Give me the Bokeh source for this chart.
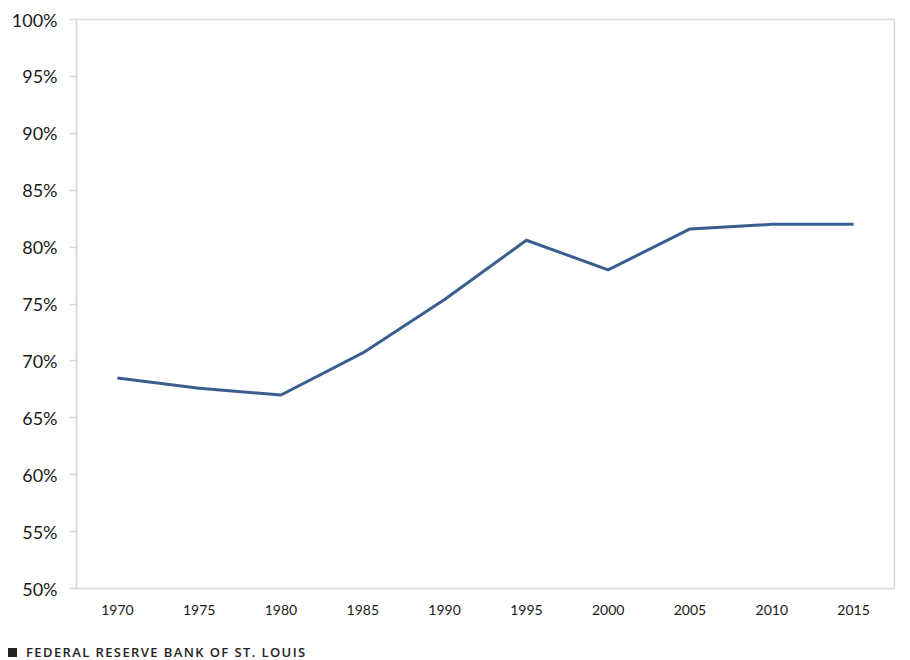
from bokeh.plotting import figure
from bokeh.models import FactorRange, Range1d, FixedTicker, PrintfTickFormatter, Div
from bokeh.layouts import column
from bokeh.embed import file_html
from bokeh.resources import INLINE

years = ["1970", "1975", "1980", "1985", "1990", "1995", "2000", "2005", "2010", "2015"]
share = [68.5, 67.6, 67.0, 70.7, 75.4, 80.6, 78.0, 81.6, 82.0, 82.0]
y_ticks = [50, 55, 60, 65, 70, 75, 80, 85, 90, 95, 100]
source_note = "FEDERAL RESERVE BANK OF ST. LOUIS"

p = figure(width=902, height=620, x_range=FactorRange(*years), y_range=Range1d(50, 100),
           output_backend="svg", toolbar_location=None,
           min_border_left=76, min_border_right=8, min_border_top=19, min_border_bottom=32)
p.line(years, share, line_color="#3a5f8f", line_width=3)

p.xgrid.visible = False
p.ygrid.visible = False
p.outline_line_color = "#d9d9d9"
p.outline_line_width = 1.5

p.yaxis.ticker = FixedTicker(ticks=y_ticks)
p.yaxis.formatter = PrintfTickFormatter(format="%d%%")
p.yaxis.axis_line_color = "#d9d9d9"
p.yaxis.axis_line_width = 1.5
p.yaxis.major_tick_line_color = "#d9d9d9"
p.yaxis.major_tick_line_width = 1.5
p.yaxis.major_tick_out = 7
p.yaxis.major_tick_in = 0
p.yaxis.minor_tick_line_color = None
p.yaxis.major_label_text_font = "Lato"
p.yaxis.major_label_text_font_size = "18px"
p.yaxis.major_label_text_color = "#1a1a1a"
p.yaxis.major_label_standoff = 12

p.xaxis.axis_line_color = "#d9d9d9"
p.xaxis.axis_line_width = 1.5
p.xaxis.major_tick_line_color = None
p.xaxis.minor_tick_line_color = None
p.xaxis.major_label_text_font = "Lato"
p.xaxis.major_label_text_font_size = "14px"
p.xaxis.major_label_text_color = "#1a1a1a"
p.xaxis.major_label_standoff = 10

footer = Div(
    text='<span style="display:inline-block; width:9px; height:9px; background:#222222; '
         'margin-right:9px; vertical-align:0px;"></span>' + source_note,
    width=420, height=16, margin=(24, 0, 0, 8),
    styles={"font-family": "Open Sans", "font-size": "13px", "font-weight": "600",
            "letter-spacing": "1.4px", "color": "#222222", "line-height": "16px"},
)

layout = column(p, footer, spacing=0)
open("out.html", "w").write(file_html(layout, INLINE))
